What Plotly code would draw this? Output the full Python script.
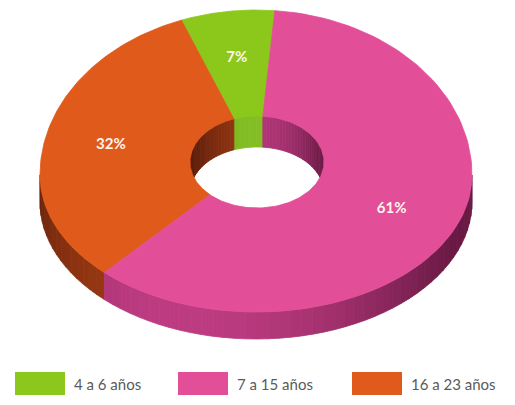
import numpy as np
import plotly.graph_objects as go

# ---- data ----
categories = ["4 a 6 años", "7 a 15 años", "16 a 23 años"]
values = [7, 61, 32]
top_colors = ["#8cc81c", "#e24e98", "#df5a1b"]
wall_light = [(140, 200, 40), (190, 60, 130), (160, 60, 20)]
wall_dark = [(90, 140, 15), (105, 25, 68), (90, 28, 10)]
# counter-clockwise drawing order starting near 12 o'clock
ccw_order = [0, 2, 1]

# ---- geometry (screen pixel space) ----
W, H = 515, 405
OFF = 8                # page body margin
start_angle = 85.0
cx, cy = 256, 175
A = 216                # outer horizontal radius
B_back, B_front = 165, 137
hx0, hy0 = 257, 162
a, b = 67, 46          # hole ellipse radii
depth = 27


def outer(t):
    s = np.sin(t)
    return cx + A * np.cos(t), cy - np.where(s > 0, B_back, B_front) * s


def hole(t):
    return hx0 + a * np.cos(t), hy0 - b * np.sin(t)


def intersect(t1, t2, ranges):
    out = []
    for lo, hi in ranges:
        s, e = max(t1, lo), min(t2, hi)
        if e > s:
            out.append((s, e))
    return out


def mix(c1, c2, k):
    k = float(np.clip(k, 0, 1))
    return "rgb(%d,%d,%d)" % tuple(int(c2[j] + (c1[j] - c2[j]) * k) for j in range(3))


total = sum(values)
spans = {}
start = start_angle
for i in ccw_order:
    end = start + 360.0 * values[i] / total
    spans[i] = (start, end)
    start = end

fig = go.Figure()


def poly(xs, ys, color):
    fig.add_trace(go.Scatter(
        x=list(xs) + [xs[0]], y=list(ys) + [ys[0]], mode="lines",
        fill="toself", fillcolor=color, line=dict(color=color, width=0.8),
        hoverinfo="skip", showlegend=False))


# outer front walls
for i in ccw_order:
    t1, t2 = spans[i]
    for s, e in intersect(t1, t2, [(180, 360), (540, 720)]):
        n = max(2, int((e - s) / 3) + 1)
        edges = np.linspace(s, e, n + 1)
        for k in range(n):
            tt = np.radians(np.linspace(edges[k], edges[k + 1], 4))
            ox, oy = outer(tt)
            mid = np.radians((edges[k] + edges[k + 1]) / 2)
            c = np.cos(mid - np.radians(250))
            br = c ** 1.5 if c > 0 else 0
            col = mix(wall_light[i], wall_dark[i], br)
            xs = np.concatenate([ox, ox[::-1]])
            ys = np.concatenate([oy, (oy + depth)[::-1]])
            poly(xs, ys, col)

# inner back walls of the hole
for i in ccw_order:
    t1, t2 = spans[i]
    for s, e in intersect(t1, t2, [(0, 180), (360, 540)]):
        n = max(2, int((e - s) / 3) + 1)
        edges = np.linspace(s, e, n + 1)
        for k in range(n):
            tt = np.radians(np.linspace(edges[k], edges[k + 1], 4))
            hx, hy = hole(tt)
            mid = np.radians((edges[k] + edges[k + 1]) / 2)
            br = 0.85 * max(0.0, np.sin(mid)) ** 2
            col = mix(wall_light[i], wall_dark[i], br)
            xs = np.concatenate([hx, hx[::-1]])
            ys = np.concatenate([hy, (hy + depth + 4)[::-1]])
            poly(xs, ys, col)

# top face slices
for i in ccw_order:
    t1, t2 = spans[i]
    tt = np.radians(np.linspace(t1, t2, 120))
    ox, oy = outer(tt)
    hx, hy = hole(tt[::-1])
    poly(np.concatenate([ox, hx]), np.concatenate([oy, hy]), top_colors[i])

# percentage labels
lx, ly, lt = [], [], []
for i in ccw_order:
    t1, t2 = spans[i]
    m = np.radians((t1 + t2) / 2)
    ox, oy = outer(np.array([m]))
    hx, hy = hole(np.array([m]))
    f = 0.55
    lx.append(float(hx[0] + f * (ox[0] - hx[0])))
    ly.append(float(hy[0] + f * (oy[0] - hy[0])))
    lt.append(f"{values[i]}%")
fig.add_trace(go.Scatter(
    x=lx, y=ly, text=lt, mode="text",
    textfont=dict(family="Lato", size=15, color="#fff4ec", weight="bold"),
    hoverinfo="skip", showlegend=False))

# custom legend
shapes, annotations = [], []
legend_x = [15, 178, 352]
for j, i in enumerate([0, 1, 2]):
    x0 = legend_x[j]
    shapes.append(dict(type="rect", xref="x", yref="y", x0=x0, x1=x0 + 50,
                       y0=372, y1=395, fillcolor=top_colors[i],
                       line=dict(width=0), layer="above"))
    annotations.append(dict(x=x0 + 57, y=384, xref="x", yref="y", text=categories[i],
                            showarrow=False, xanchor="left", yanchor="middle",
                            font=dict(family="Lato", size=15, color="#5a5a5a")))

fig.update_layout(
    width=W - OFF, height=H - OFF, margin=dict(l=0, r=0, t=0, b=0),
    paper_bgcolor="white", plot_bgcolor="white",
    xaxis=dict(range=[OFF, W], visible=False, fixedrange=True),
    yaxis=dict(range=[H, OFF], visible=False, fixedrange=True),
    shapes=shapes, annotations=annotations, showlegend=False,
)

fig.write_html("out.html")
